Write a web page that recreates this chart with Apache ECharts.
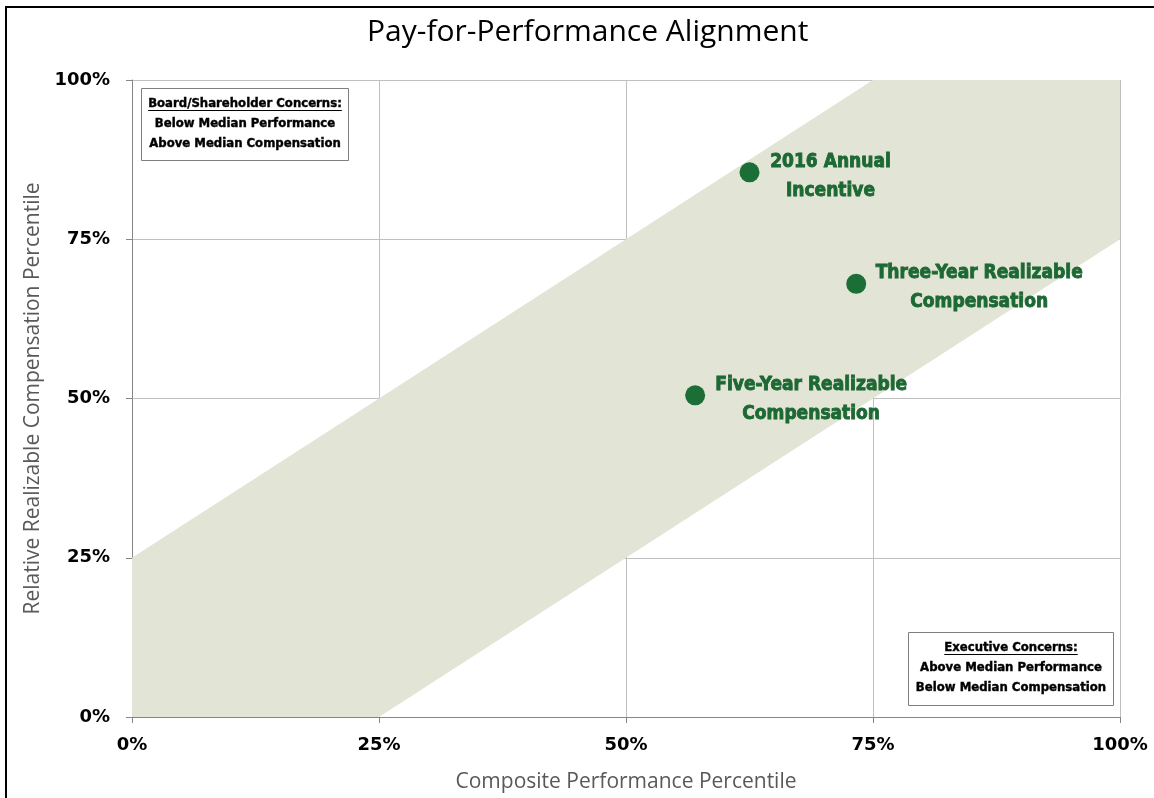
<!DOCTYPE html>
<html><head><meta charset="utf-8">
<script src="https://cdn.jsdelivr.net/npm/echarts@6/dist/echarts.min.js"></script>
<style>html,body{margin:0;padding:0;background:#fff;}#c{width:1154px;height:798px;}</style>
</head><body><div id="c"></div>
<script>
// Data
var pointNames = ['2016 Annual\nIncentive', 'Three-Year Realizable\nCompensation', 'Five-Year Realizable\nCompensation'];
var perfPct = [62.5, 73.3, 57.0];
var compPct = [85.5, 68.0, 50.5];
var bandX = [0, 0, 75, 100, 100, 25];
var bandY = [0, 25, 100, 100, 75, 0];
var tickValues = [0, 25, 50, 75, 100];
var tickLabels = ['0%', '25%', '50%', '75%', '100%'];
var boxTopLeft = ['Board/Shareholder Concerns:', 'Below Median Performance', 'Above Median Compensation'];
var boxBottomRight = ['Executive Concerns:', 'Above Median Performance', 'Below Median Compensation'];

var condensed = '"Liberation Sans Narrow","DejaVu Sans Condensed","Arial Narrow",sans-serif';
var tickFont = '"DejaVu Sans",sans-serif';
var chart = echarts.init(document.getElementById('c'), null, {renderer: 'canvas'});

function lbl(v) { var i = tickValues.indexOf(v); return i >= 0 ? tickLabels[i] : ''; }

var measureCtx = document.createElement('canvas').getContext('2d');
function textWidth(t, font) { measureCtx.font = font; return measureCtx.measureText(t).width; }

var bandData = bandX.map(function (x, i) { return [x, bandY[i]]; });

var boxFont = 'bold 13px ' + condensed;
function boxGraphic(lines, left, top, w, h) {
  var uw = textWidth(lines[0], boxFont);
  return {
    type: 'group', left: left, top: top, z: 100,
    children: [
      {type: 'rect', shape: {x: 0, y: 0, width: w, height: h}, style: {fill: '#fff', stroke: '#7f7f7f', lineWidth: 1}},
      {type: 'text', style: {x: w / 2, y: 15, text: lines[0], align: 'center', verticalAlign: 'middle', font: boxFont, fill: '#000', stroke: '#000', lineWidth: 0.4}},
      {type: 'line', shape: {x1: w / 2 - uw / 2, y1: 22, x2: w / 2 + uw / 2, y2: 22}, style: {stroke: '#000', lineWidth: 1}},
      {type: 'text', style: {x: w / 2, y: 35, text: lines[1], align: 'center', verticalAlign: 'middle', font: boxFont, fill: '#000', stroke: '#000', lineWidth: 0.4}},
      {type: 'text', style: {x: w / 2, y: 55, text: lines[2], align: 'center', verticalAlign: 'middle', font: boxFont, fill: '#000', stroke: '#000', lineWidth: 0.4}}
    ]
  };
}

// label centres relative to each point (px)
var labelOffsets = [[81, 4], [123, 4], [116, 4]];
var pts = perfPct.map(function (x, i) {
  return {
    name: pointNames[i], value: [x, compPct[i]],
    label: {offset: labelOffsets[i]}
  };
});

var option = {
  backgroundColor: '#fff',
  animation: false,
  title: {
    text: 'Pay-for-Performance Alignment', left: 362, top: 12,
    textStyle: {fontFamily: '"Open Sans", sans-serif', fontWeight: 'normal', fontSize: 30, color: '#000'}
  },
  grid: {left: 132, right: 34, top: 80, bottom: 80},
  xAxis: {
    type: 'value', min: 0, max: 100, interval: 25,
    name: 'Composite Performance Percentile', nameLocation: 'middle', nameGap: 55,
    nameTextStyle: {fontFamily: '"Open Sans", sans-serif', fontSize: 21, color: '#595959'},
    axisLine: {show: true, lineStyle: {color: '#868686', width: 1}},
    axisTick: {show: true, length: 6, lineStyle: {color: '#868686'}},
    axisLabel: {formatter: lbl, margin: 19, fontFamily: tickFont, fontWeight: 'bold', fontSize: 18, color: '#000'},
    splitLine: {show: true, lineStyle: {color: '#c0c0c0', width: 1}}
  },
  yAxis: {
    type: 'value', min: 0, max: 100, interval: 25,
    name: 'Relative Realizable Compensation Percentile', nameLocation: 'middle', nameGap: 88, nameRotate: 90,
    nameTextStyle: {fontFamily: '"Open Sans", sans-serif', fontSize: 21, color: '#595959'},
    axisLine: {show: true, lineStyle: {color: '#868686', width: 1}},
    axisTick: {show: true, length: 6, lineStyle: {color: '#868686'}},
    axisLabel: {formatter: lbl, margin: 22, fontFamily: tickFont, fontWeight: 'bold', fontSize: 18, color: '#000'},
    splitLine: {show: true, lineStyle: {color: '#c0c0c0', width: 1}}
  },
  series: [
    {
      type: 'custom', silent: true, z: 1,
      data: [0],
      renderItem: function (params, api) {
        var p = bandData.map(function (d) { return api.coord(d); });
        return {type: 'polygon', shape: {points: p}, style: {fill: '#e2e5d6'}};
      }
    },
    {
      type: 'scatter', z: 5, symbolSize: 20,
      itemStyle: {color: '#1b6e36', opacity: 1},
      data: pts,
      label: {
        show: true, position: 'inside',
        formatter: function (p) { return p.name; },
        align: 'center', verticalAlign: 'middle',
        fontFamily: condensed, fontWeight: 'bold', fontSize: 19, lineHeight: 29,
        color: '#1c6a33', textBorderColor: '#1a5c2d', textBorderWidth: 0.8
      }
    }
  ],
  graphic: [
    {type: 'polyline', z: 100, shape: {points: [[6, 800], [6, 7], [1154, 7]]}, style: {stroke: '#000', lineWidth: 2, fill: null}},
    boxGraphic(boxTopLeft, 141, 88, 207, 72),
    boxGraphic(boxBottomRight, 908, 632, 205, 73)
  ]
};
chart.setOption(option);
</script></body></html>
